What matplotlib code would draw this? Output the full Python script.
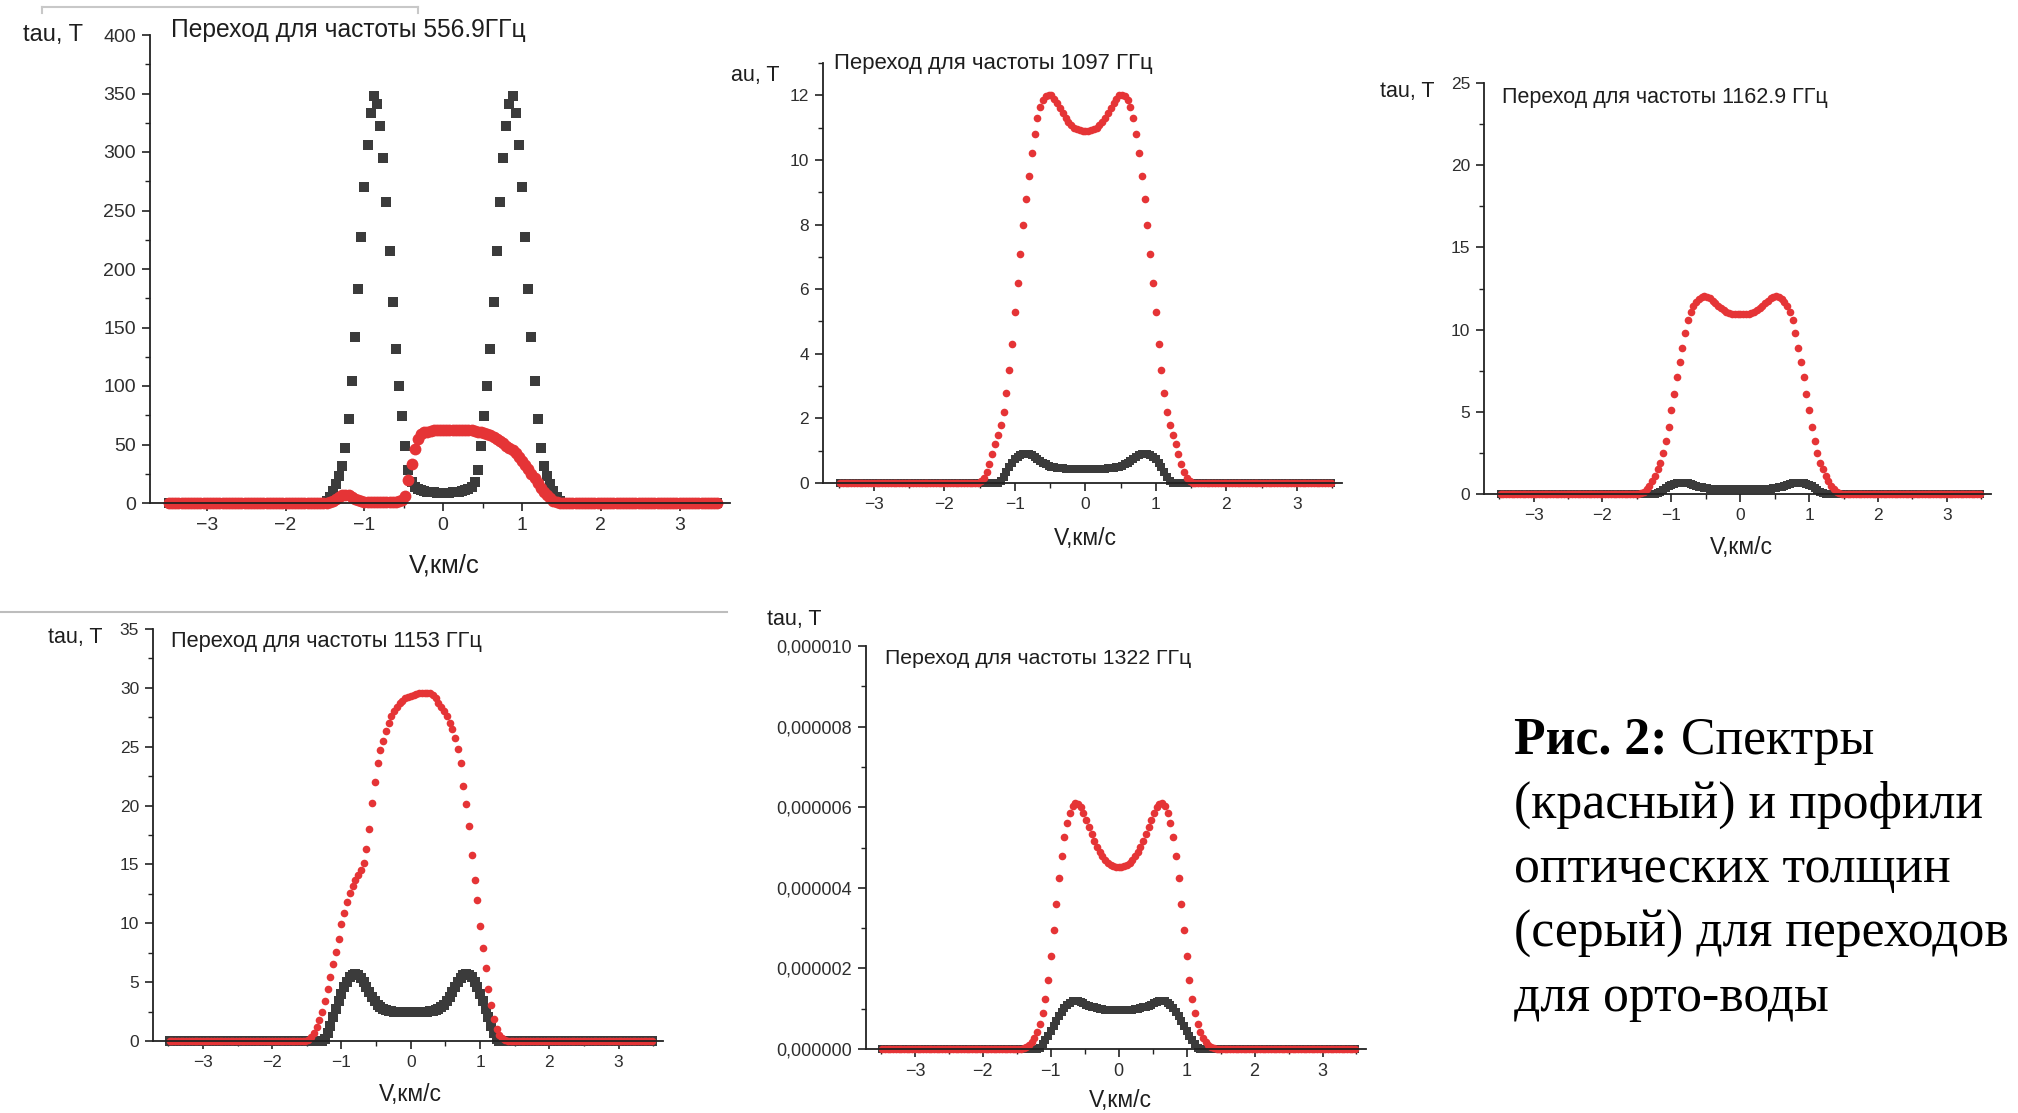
import numpy as np
import matplotlib.pyplot as plt
from matplotlib.ticker import MultipleLocator, FuncFormatter
from matplotlib.lines import Line2D

# -----------------------------
# SETTINGS
# -----------------------------
W, H = 2018, 1113
RED = '#e53436'
GRAY = '#3b3b3b'
SANS = 'Liberation Sans'
SERIF = 'Liberation Serif'

# velocity grid, km/s (step 0.04)
v = np.round(np.arange(-87, 88) * 0.04, 2)
N_EDGE = 50  # points on each side lying on the zero baseline (|V| > 1.48)


def full(core):
    return np.concatenate([np.zeros(N_EDGE), np.array(core, float), np.zeros(N_EDGE)])


# -----------------------------
# DATA (|V| <= 1.48)
# -----------------------------
# 556.9 GHz
tau_557 = [2, 5, 10, 16, 23, 32, 47, 72, 104, 142,
           183, 227, 270, 306, 333, 348, 341, 322, 295, 257,
           215, 172, 132, 100, 74, 49, 28, 18, 14, 12,
           11, 10, 9.5, 9, 9, 8.5, 8.5, 8.5,
           8.5, 8.5, 9, 9, 9.5, 10, 11, 12, 14, 18,
           28, 49, 74, 100, 132, 172, 215, 257, 295, 322,
           341, 348, 333, 306, 270, 227, 183, 142, 104, 72,
           47, 32, 23, 16, 10, 5, 2]
spec_557 = [0.2, 0.8, 2, 3.5, 5, 6.5, 7, 6.5, 5, 3.5,
            2.5, 1.5, 1, 1, 1, 1, 1, 1, 1, 1,
            1, 1, 1, 1.5, 2.5, 6, 20, 33, 46, 55,
            59, 60.5, 61, 61.5, 62, 62, 62.5, 62.5, 62.5, 62.5,
            62.5, 62.5, 62.5, 62.5, 62.5, 62, 62, 61.5, 61, 60.5,
            60, 59, 58, 56.5, 55, 53, 51, 49, 47, 45,
            42.5, 39.5, 36, 32.5, 29, 25, 21, 17, 13, 9.5,
            6.5, 4, 2, 0.8, 0.2]

# 1097 GHz
spec_1097 = [0.05, 0.15, 0.35, 0.6, 0.9, 1.2, 1.5, 1.8, 2.2, 2.8,
             3.5, 4.3, 5.3, 6.2, 7.1, 8.0, 8.8, 9.5, 10.2, 10.8,
             11.3, 11.65, 11.85, 11.97, 12.02, 12.0, 11.9, 11.75, 11.6, 11.45,
             11.3, 11.18, 11.08, 11.0, 10.95, 10.92, 10.9, 10.9,
             10.9, 10.92, 10.95, 11.0, 11.08, 11.18, 11.3, 11.45, 11.6, 11.75,
             11.9, 12.0, 12.02, 11.97, 11.85, 11.65, 11.3, 10.8, 10.2, 9.5,
             8.8, 8.0, 7.1, 6.2, 5.3, 4.3, 3.5, 2.8, 2.2, 1.8,
             1.5, 1.2, 0.9, 0.6, 0.35, 0.15, 0.05]
tau_1097 = [0, 0, 0, 0, 0, 0, 0, 0.05, 0.2, 0.35,
            0.5, 0.63, 0.74, 0.82, 0.87, 0.9, 0.91, 0.9, 0.86, 0.81,
            0.75, 0.69, 0.63, 0.58, 0.54, 0.51, 0.49, 0.47, 0.46, 0.45,
            0.44, 0.44, 0.43, 0.43, 0.43, 0.43, 0.43, 0.43,
            0.43, 0.43, 0.43, 0.43, 0.43, 0.44, 0.44, 0.45, 0.46, 0.47,
            0.49, 0.51, 0.54, 0.58, 0.63, 0.69, 0.75, 0.81, 0.86, 0.9,
            0.91, 0.9, 0.87, 0.82, 0.74, 0.63, 0.5, 0.35, 0.2, 0.05,
            0, 0, 0, 0, 0, 0, 0]

# 1162.9 GHz
spec_1163 = [0.03, 0.08, 0.15, 0.3, 0.5, 0.8, 1.1, 1.5, 1.9, 2.5,
             3.2, 4.1, 5.1, 6.1, 7.1, 8.0, 8.9, 9.8, 10.6, 11.1,
             11.45, 11.7, 11.88, 11.98, 12.02, 12.0, 11.9, 11.75, 11.6, 11.45,
             11.3, 11.18, 11.08, 11.02, 10.97, 10.94, 10.92, 10.92,
             10.92, 10.94, 10.97, 11.02, 11.08, 11.18, 11.3, 11.45, 11.6, 11.75,
             11.9, 12.0, 12.02, 11.98, 11.88, 11.7, 11.45, 11.1, 10.6, 9.8,
             8.9, 8.0, 7.1, 6.1, 5.1, 4.1, 3.2, 2.5, 1.9, 1.5,
             1.1, 0.8, 0.5, 0.3, 0.15, 0.08, 0.03]
tau_1163 = [0, 0, 0, 0, 0, 0, 0, 0.04, 0.15, 0.27,
            0.38, 0.48, 0.56, 0.62, 0.66, 0.68, 0.69, 0.68, 0.65, 0.6,
            0.55, 0.5, 0.45, 0.41, 0.38, 0.35, 0.33, 0.32, 0.31, 0.3,
            0.3, 0.29, 0.29, 0.29, 0.29, 0.29, 0.29, 0.29,
            0.29, 0.29, 0.29, 0.29, 0.29, 0.29, 0.3, 0.3, 0.31, 0.32,
            0.33, 0.35, 0.38, 0.41, 0.45, 0.5, 0.55, 0.6, 0.65, 0.68,
            0.69, 0.68, 0.66, 0.62, 0.56, 0.48, 0.38, 0.27, 0.15, 0.04,
            0, 0, 0, 0, 0, 0, 0]

# 1153 GHz
spec_1153 = [0.1, 0.3, 0.7, 1.2, 1.8, 2.5, 3.4, 4.4, 5.4, 6.5,
             7.6, 8.7, 9.9, 10.9, 11.8, 12.6, 13.2, 13.7, 14.1, 14.5,
             15.1, 16.3, 18.0, 20.2, 22.0, 23.6, 24.7, 25.5, 26.3, 27.0,
             27.6, 28.0, 28.4, 28.7, 28.9, 29.1, 29.2, 29.3, 29.4, 29.5,
             29.55, 29.6, 29.6, 29.6, 29.55, 29.4, 29.1, 28.7, 28.4, 28.0,
             27.6, 27.0, 26.5, 25.7, 24.8, 23.6, 21.7, 20.1, 18.3, 15.8,
             13.7, 12.0, 9.8, 7.9, 6.2, 4.4, 3.1, 1.9, 1.0, 0.5,
             0.25, 0.1, 0, 0, 0]
tau_1153 = [0, 0, 0, 0, 0, 0, 0.2, 0.7, 1.3, 2.0,
            2.7, 3.4, 4.0, 4.6, 5.05, 5.4, 5.6, 5.65, 5.6, 5.35,
            5.0, 4.6, 4.15, 3.75, 3.4, 3.1, 2.9, 2.75, 2.65, 2.58,
            2.53, 2.5, 2.48, 2.47, 2.46, 2.45, 2.45, 2.45,
            2.45, 2.45, 2.46, 2.47, 2.48, 2.5, 2.53, 2.58, 2.65, 2.75,
            2.9, 3.1, 3.4, 3.75, 4.15, 4.6, 5.0, 5.35, 5.6, 5.65,
            5.6, 5.4, 5.05, 4.6, 4.0, 3.4, 2.7, 2.0, 1.3, 0.7,
            0.2, 0, 0, 0, 0, 0, 0]

# 1322 GHz, in units of 1e-6
spec_1322 = [0, 0, 0.02, 0.05, 0.1, 0.17, 0.27, 0.42, 0.62, 0.9,
             1.25, 1.7, 2.3, 2.95, 3.6, 4.25, 4.8, 5.25, 5.6, 5.85,
             6.02, 6.1, 6.08, 6.0, 5.85, 5.68, 5.5, 5.33, 5.17, 5.02,
             4.89, 4.78, 4.69, 4.62, 4.57, 4.54, 4.52, 4.52,
             4.52, 4.54, 4.57, 4.62, 4.69, 4.78, 4.89, 5.02, 5.17, 5.33,
             5.5, 5.68, 5.85, 6.0, 6.08, 6.1, 6.02, 5.85, 5.6, 5.25,
             4.8, 4.25, 3.6, 2.95, 2.3, 1.7, 1.25, 0.9, 0.62, 0.42,
             0.27, 0.17, 0.1, 0.05, 0.02, 0, 0]
tau_1322 = [0, 0, 0, 0, 0, 0, 0, 0, 0.03, 0.12,
            0.22, 0.33, 0.45, 0.57, 0.69, 0.81, 0.92, 1.02, 1.1, 1.15,
            1.18, 1.19, 1.18, 1.16, 1.13, 1.1, 1.07, 1.05, 1.03, 1.01,
            1.0, 0.99, 0.98, 0.975, 0.97, 0.97, 0.97, 0.97,
            0.97, 0.97, 0.97, 0.975, 0.98, 0.99, 1.0, 1.01, 1.03, 1.05,
            1.07, 1.1, 1.13, 1.16, 1.18, 1.19, 1.18, 1.15, 1.1, 1.02,
            0.92, 0.81, 0.69, 0.57, 0.45, 0.33, 0.22, 0.12, 0.03, 0,
            0, 0, 0, 0, 0, 0, 0]

titles = ["Переход для частоты 556.9ГГц", "Переход для частоты 1097 ГГц",
          "Переход для частоты 1162.9 ГГц", "Переход для частоты 1153 ГГц",
          "Переход для частоты 1322 ГГц"]
caption = ["(красный) и профили", "оптических толщин",
           "(серый) для переходов", "для орто-воды"]


# -----------------------------
# HELPERS
# -----------------------------
def fx(px):
    return px / W


def fy(py):
    return 1 - py / H


def panel(box, ylim, ymaj, ymin, tick_fs):
    x0, x1, y0, y1 = box
    ax = fig.add_axes([fx(x0), fy(y1), (x1 - x0) / W, (y1 - y0) / H])
    ax.set_xlim(-3.72, 3.64)
    ax.set_ylim(*ylim)
    ax.spines['top'].set_visible(False)
    ax.spines['right'].set_visible(False)
    for s in ('left', 'bottom'):
        ax.spines[s].set_linewidth(1.3)
        ax.spines[s].set_color('#222222')
    ax.xaxis.set_major_locator(MultipleLocator(1))
    ax.xaxis.set_minor_locator(MultipleLocator(0.5))
    ax.yaxis.set_major_locator(MultipleLocator(ymaj))
    ax.yaxis.set_minor_locator(MultipleLocator(ymin))
    ax.tick_params(which='major', length=6, width=1.2, color='#222222',
                   labelsize=tick_fs, labelcolor='#2e2e2e', pad=4)
    ax.tick_params(which='minor', length=3.5, width=1.0, color='#222222')
    for lab in ax.get_xticklabels() + ax.get_yticklabels():
        lab.set_family(SANS)
    ax.set_facecolor('none')
    return ax


def draw(ax, tau, spec, ms_b, ms_r, scale=1.0):
    ax.plot(v, full(tau) * scale, 's', color=GRAY, ms=ms_b, mew=0, clip_on=False)
    ax.plot(v, full(spec) * scale, 'o', color=RED, ms=ms_r, mew=0, clip_on=False)


def label(x, y, s, fs, ha='left'):
    fig.text(fx(x), fy(y), s, fontsize=fs, family=SANS, color='#1e1e1e',
             ha=ha, va='center')


# -----------------------------
# FIGURE
# -----------------------------
fig = plt.figure(figsize=(W / 100, H / 100), dpi=100)
fig.patch.set_facecolor('white')

# 1. 556.9 GHz
ax1 = panel((150, 730, 35, 503), (0, 400), 50, 25, 14)
draw(ax1, tau_557, spec_557, 7, 8.5)
label(171, 30, titles[0], 17.7)
label(23, 35, "tau, T", 17)
label(444, 566, "V,км/с", 18.5, ha='center')

# 2. 1097 GHz
ax2 = panel((823, 1342, 63, 483), (0, 13), 2, 1, 12.5)
draw(ax2, tau_1097, spec_1097, 6, 5.5)
label(834, 64, titles[1], 15.9)
label(731, 75, "au, T", 15.5)
label(1085, 538, "V,км/с", 16.5, ha='center')

# 3. 1162.9 GHz
ax3 = panel((1484, 1991, 83, 494), (0, 25), 5, 2.5, 12.5)
draw(ax3, tau_1163, spec_1163, 6, 5.5)
label(1502, 97, titles[2], 15.5)
label(1380, 91, "tau, T", 15.5)
label(1741, 548, "V,км/с", 16.5, ha='center')

# 4. 1153 GHz
ax4 = panel((153, 663, 629, 1041), (0, 35), 5, 2.5, 12.5)
draw(ax4, tau_1153, spec_1153, 6.5, 5.5)
label(171, 642, titles[3], 15.7)
label(48, 638, "tau, T", 15.5)
label(410, 1095, "V,км/с", 16.5, ha='center')

# 5. 1322 GHz
ax5 = panel((866, 1366, 646, 1049), (0, 1e-5), 2e-6, 1e-6, 13)
ax5.yaxis.set_major_formatter(FuncFormatter(lambda val, p: f"{val:.6f}".replace('.', ',')))
draw(ax5, tau_1322, spec_1322, 6, 5.5, scale=1e-6)
label(885, 659, titles[4], 15.3)
label(767, 620, "tau, T", 15.5)
label(1120, 1100, "V,км/с", 16.5, ha='center')

# leftover frame lines from the pasted screenshots
fig.add_artist(Line2D([fx(42), fx(418)], [fy(7), fy(7)], color='#c8c8c8', lw=1.5))
fig.add_artist(Line2D([fx(42), fx(42)], [fy(7), fy(13)], color='#c8c8c8', lw=1.5))
fig.add_artist(Line2D([fx(418), fx(418)], [fy(7), fy(13)], color='#c8c8c8', lw=1.5))
fig.add_artist(Line2D([0, fx(727)], [fy(612), fy(612)], color='#bdbdbd', lw=1.5))

# caption
rend = fig.canvas.get_renderer()
line_y = [741, 805, 869, 934, 998]
cap_fs = 37.3
t = fig.text(fx(1514), fy(line_y[0]), "Рис. 2:", fontsize=cap_fs, family=SERIF,
             fontweight='bold', va='center', color='black')
bb = t.get_window_extent(rend)
fig.text(bb.x1 / W, fy(line_y[0]), " Спектры", fontsize=cap_fs, family=SERIF,
         va='center', color='black')
for yy, s in zip(line_y[1:], caption):
    fig.text(fx(1514), fy(yy), s, fontsize=cap_fs, family=SERIF, va='center', color='black')

fig.savefig("out.png", dpi=100, facecolor='white')
